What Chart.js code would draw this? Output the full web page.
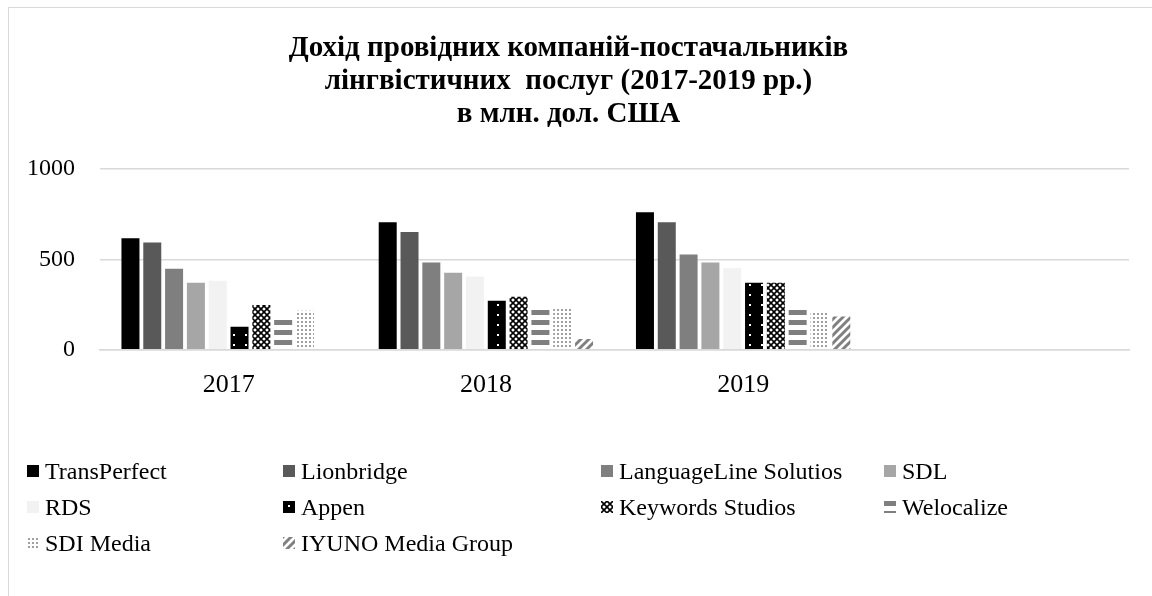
<!DOCTYPE html>
<html>
<head>
<meta charset="utf-8">
<script src="https://cdn.jsdelivr.net/npm/chart.js@4"></script>
<style>
  body { margin: 0; background: #fff; }
  #wrap { position: relative; width: 1152px; height: 596px; overflow: hidden; }
  #grafica { position: absolute; left: 0; top: 0; }
  #marco { position: absolute; left: 8px; top: 7px; width: 1200px; height: 700px;
           border-left: 1.5px solid #d9d9d9; border-top: 1.5px solid #d9d9d9; }
  #leyenda { position: absolute; left: 0; top: 0; font-family: "Liberation Serif", serif; font-size: 24px; color: #000; }
  .item { position: absolute; height: 36px; display: flex; align-items: center; white-space: nowrap; }
  .item canvas { margin-right: 6px; }
</style>
</head>
<body>
<div id="wrap">
  <div id="marco"></div>
  <canvas id="grafica" width="1152" height="596"></canvas>
  <div id="leyenda"></div>
</div>
<script>
// Datos (mln. USD)
const anios = ['2017', '2018', '2019', ''];
const transPerfect = [617, 706, 761, null];
const lionbridge   = [594, 652, 706, null];
const languageLine = [449, 483, 527, null];
const sdl          = [371, 427, 483, null];
const rds          = [382, 406, 451, null];
const appen        = [128, 272, 371, null];
const keywords     = [248, 294, 371, null];
const welocalize   = [184, 229, 244, null];
const sdiMedia     = [216, 229, 214, null];
const iyuno        = [null, 60, 184, null];
const ticksY = [0, 500, 1000];

const titulo = ['Дохід провідних компаній-постачальників',
                'лінгвістичних  послуг (2017-2019 рр.)',
                'в млн. дол. США'];

// Texturas tipo Excel
function tile(w, h, dibujar) {
    const c = document.createElement('canvas');
    c.width = w; c.height = h;
    dibujar(c.getContext('2d'), w, h);
    return c;
}
const tiles = {
    appen: tile(12, 10, function(g, w, h){
        g.fillStyle = '#000'; g.fillRect(0, 0, w, h);
        g.fillStyle = '#fff'; g.fillRect(5, 4, 2, 2);
    }),
    keywords: tile(6, 6, function(g, w, h){
        g.fillStyle = '#fff'; g.fillRect(0, 0, w, h);
        g.strokeStyle = '#000'; g.lineWidth = 1.6;
        g.beginPath();
        g.moveTo(0, 0); g.lineTo(w, h);
        g.moveTo(w, 0); g.lineTo(0, h);
        g.stroke();
    }),
    welocalize: tile(4, 10, function(g, w, h){
        g.fillStyle = '#fff'; g.fillRect(0, 0, w, h);
        g.fillStyle = '#7f7f7f'; g.fillRect(0, 0, w, 5);
    }),
    sdi: tile(4, 4, function(g, w, h){
        g.fillStyle = '#fff'; g.fillRect(0, 0, w, h);
        g.fillStyle = '#a0a0a0'; g.fillRect(1, 1, 2, 2);
    }),
    iyuno: tile(8, 8, function(g, w, h){
        g.fillStyle = '#fff'; g.fillRect(0, 0, w, h);
        g.strokeStyle = '#808080'; g.lineWidth = 3;
        g.beginPath();
        g.moveTo(-2, 10); g.lineTo(10, -2);
        g.moveTo(-2, 2); g.lineTo(2, -2);
        g.moveTo(6, 10); g.lineTo(10, 6);
        g.stroke();
    })
};

const ctx = document.getElementById('grafica').getContext('2d');
function patron(nombre) { return ctx.createPattern(tiles[nombre], 'repeat'); }

const series = [
    { label: 'TransPerfect', data: transPerfect, color: '#000000' },
    { label: 'Lionbridge', data: lionbridge, color: '#595959' },
    { label: 'LanguageLine Solutios', data: languageLine, color: '#7f7f7f' },
    { label: 'SDL', data: sdl, color: '#a6a6a6' },
    { label: 'RDS', data: rds, color: '#f2f2f2' },
    { label: 'Appen', data: appen, tex: 'appen' },
    { label: 'Keywords Studios', data: keywords, tex: 'keywords' },
    { label: 'Welocalize', data: welocalize, tex: 'welocalize' },
    { label: 'SDI Media', data: sdiMedia, tex: 'sdi' },
    { label: 'IYUNO Media Group', data: iyuno, tex: 'iyuno' }
];

const grafica = new Chart(ctx, {
    type: 'bar',
    data: {
        labels: anios,
        datasets: series.map(function(s){
            return {
                label: s.label,
                data: s.data,
                backgroundColor: s.tex ? patron(s.tex) : s.color,
                borderWidth: 0,
                categoryPercentage: 0.848,
                barPercentage: 0.825
            };
        })
    },
    options: {
        responsive: false,
        animation: false,
        layout: { padding: { left: 8, right: 23, top: 0, bottom: 183 } },
        scales: {
            x: {
                grid: { display: false },
                border: { display: true, color: '#d9d9d9', width: 1.5 },
                ticks: { color: '#000', padding: 12, font: { family: 'Liberation Serif', size: 26 } }
            },
            y: {
                min: 0,
                max: 1000,
                afterFit: function(scale){ scale.width = 92; },
                afterBuildTicks: function(scale){ scale.ticks = ticksY.map(function(v){ return { value: v }; }); },
                grid: { color: '#d9d9d9', lineWidth: 1.5, drawTicks: false },
                border: { display: false },
                ticks: {
                    color: '#000',
                    padding: 25,
                    font: { family: 'Liberation Serif', size: 24 },
                    callback: function(v){ return String(v); }
                }
            }
        },
        plugins: {
            legend: { display: false },
            tooltip: { enabled: false },
            title: {
                display: true,
                text: titulo,
                color: '#000',
                font: { family: 'Liberation Serif', size: 29, weight: 'bold', lineHeight: 1.14 },
                padding: { top: 32, bottom: 38 }
            }
        }
    }
});

// Leyenda en rejilla como en Excel
const colX = [27, 283, 601, 884];
const filaY = [471, 507, 543];
const leyenda = document.getElementById('leyenda');
grafica.data.datasets.forEach(function(ds, i){
    const item = document.createElement('div');
    item.className = 'item';
    item.style.left = colX[i % 4] + 'px';
    item.style.top = (filaY[Math.floor(i / 4)] - 18) + 'px';
    const muestra = document.createElement('canvas');
    muestra.width = 12; muestra.height = 12;
    const g = muestra.getContext('2d');
    const s = series[i];
    g.fillStyle = s.tex ? g.createPattern(tiles[s.tex], 'repeat') : s.color;
    g.fillRect(0, 0, 12, 12);
    item.appendChild(muestra);
    item.appendChild(document.createTextNode(ds.label));
    leyenda.appendChild(item);
});
</script>
</body>
</html>
